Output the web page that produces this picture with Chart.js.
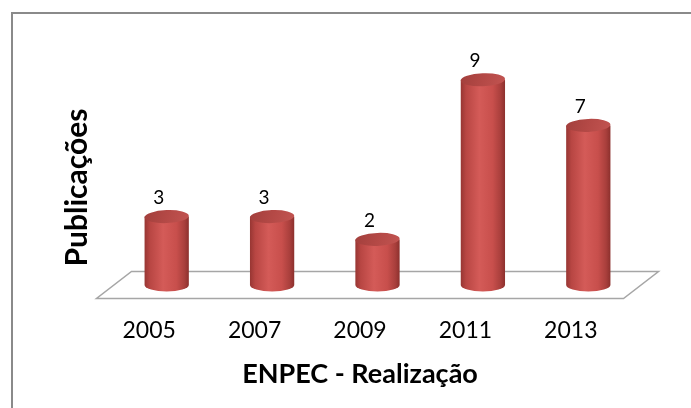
<!DOCTYPE html>
<html>
<head>
<meta charset="utf-8">
<script src="https://cdn.jsdelivr.net/npm/chart.js@4/dist/chart.umd.min.js"></script>
<style>
html,body{margin:0;padding:0;background:#fff;}
#wrap{position:relative;width:691px;height:408px;}
</style>
</head>
<body>
<div id="wrap"><canvas id="c" width="691" height="408"></canvas></div>
<script>
const categories = ['2005', '2007', '2009', '2011', '2013'];
const publicacoes = [3, 3, 2, 9, 7];
const xTitle = 'ENPEC - Realização';
const yTitle = 'Publicações';

const FONT = 'Lato, "Open Sans", sans-serif';
const RY = 6.5;      // ellipse half-height of cylinder caps
const DEPTH_X = 17.5; // 3D depth shift (half floor depth), horizontal
const DEPTH_Y = 13.5; // 3D depth shift, vertical

const framePlugin = {
  id: 'frame',
  beforeDraw(chart) {
    const ctx = chart.ctx;
    ctx.save();
    ctx.fillStyle = '#fff';
    ctx.fillRect(0, 0, chart.width, chart.height);
    ctx.strokeStyle = '#8a8a8a';
    ctx.lineWidth = 2;
    ctx.beginPath();
    ctx.moveTo(12, chart.height + 5);
    ctx.lineTo(12, 13);
    ctx.lineTo(chart.width + 5, 13);
    ctx.stroke();
    ctx.restore();
  },
  afterDraw(chart) {
    // vertical axis title (3D chart: placed beside the back wall)
    const ctx = chart.ctx;
    ctx.save();
    ctx.translate(86.5, 187.5);
    ctx.rotate(-Math.PI / 2);
    ctx.font = 'bold 30px ' + FONT;
    ctx.fillStyle = '#000';
    ctx.textAlign = 'center';
    ctx.textBaseline = 'alphabetic';
    ctx.fillText(yTitle, 0, 0);
    ctx.restore();
  }
};

const cylinderPlugin = {
  id: 'cyl',
  beforeDatasetsDraw(chart) {
    const ctx = chart.ctx;
    const a = chart.chartArea;
    const base = chart.scales.y.getPixelForValue(0);
    ctx.save();
    ctx.strokeStyle = '#a6a6a6';
    ctx.lineWidth = 1.5;
    ctx.beginPath();
    ctx.moveTo(a.left + 2 * DEPTH_X, base - DEPTH_Y);
    ctx.lineTo(a.right + 2 * DEPTH_X, base - DEPTH_Y);
    ctx.lineTo(a.right, base + DEPTH_Y);
    ctx.lineTo(a.left, base + DEPTH_Y);
    ctx.closePath();
    ctx.stroke();
    ctx.restore();
  },
  afterDatasetsDraw(chart) {
    const ctx = chart.ctx;
    const meta = chart.getDatasetMeta(0);
    const ds = chart.data.datasets[0];
    meta.data.forEach((bar, i) => {
      const p = bar.getProps(['x', 'y', 'base', 'width'], true);
      const cx = p.x + DEPTH_X;
      const l = cx - p.width / 2, r = cx + p.width / 2, rx = p.width / 2;
      ctx.save();
      const g = ctx.createLinearGradient(l, 0, r, 0);
      g.addColorStop(0, '#973633');
      g.addColorStop(0.12, '#b84643');
      g.addColorStop(0.42, '#d45b58');
      g.addColorStop(0.72, '#c84f4c');
      g.addColorStop(0.9, '#a93f3c');
      g.addColorStop(1, '#8c302d');
      ctx.fillStyle = g;
      ctx.beginPath();
      ctx.moveTo(l, p.y);
      ctx.lineTo(l, p.base);
      ctx.ellipse(cx, p.base, rx, RY, 0, Math.PI, 0, true);
      ctx.lineTo(r, p.y);
      ctx.closePath();
      ctx.fill();
      const gc = ctx.createLinearGradient(l, p.y - RY, r, p.y + RY);
      gc.addColorStop(0, '#a23f3c');
      gc.addColorStop(0.5, '#b44946');
      gc.addColorStop(1, '#c25451');
      ctx.fillStyle = gc;
      ctx.beginPath();
      ctx.ellipse(cx, p.y, rx, RY, -0.04, 0, Math.PI * 2);
      ctx.fill();
      ctx.fillStyle = '#000';
      ctx.font = '19px ' + FONT;
      ctx.textAlign = 'center';
      ctx.textBaseline = 'middle';
      ctx.fillText(String(ds.data[i]), cx - 8, p.y - 19);
      ctx.restore();
    });
  }
};

new Chart(document.getElementById('c'), {
  type: 'bar',
  data: {
    labels: categories,
    datasets: [{
      data: publicacoes,
      backgroundColor: 'rgba(0,0,0,0)',
      borderWidth: 0,
      barPercentage: 0.42,
      categoryPercentage: 1
    }]
  },
  options: {
    responsive: false,
    animation: false,
    events: [],
    layout: { padding: { left: 96.5, right: 67.5, top: 57, bottom: 18 } },
    plugins: { legend: { display: false }, tooltip: { enabled: false } },
    scales: {
      x: {
        grid: { display: false, drawTicks: false },
        border: { display: false },
        ticks: { color: '#000', font: { family: FONT, size: 23 }, padding: 32, maxRotation: 0 },
        title: { display: true, text: xTitle, color: '#000', font: { family: FONT, size: 27, weight: 'bold' }, padding: 0 },
        afterFit(s) { s.height = 105; }
      },
      y: {
        display: false,
        min: 0, max: 10,
        grid: { display: false },
        title: { display: false, text: yTitle }
      }
    }
  },
  plugins: [framePlugin, cylinderPlugin]
});
</script>
</body>
</html>
